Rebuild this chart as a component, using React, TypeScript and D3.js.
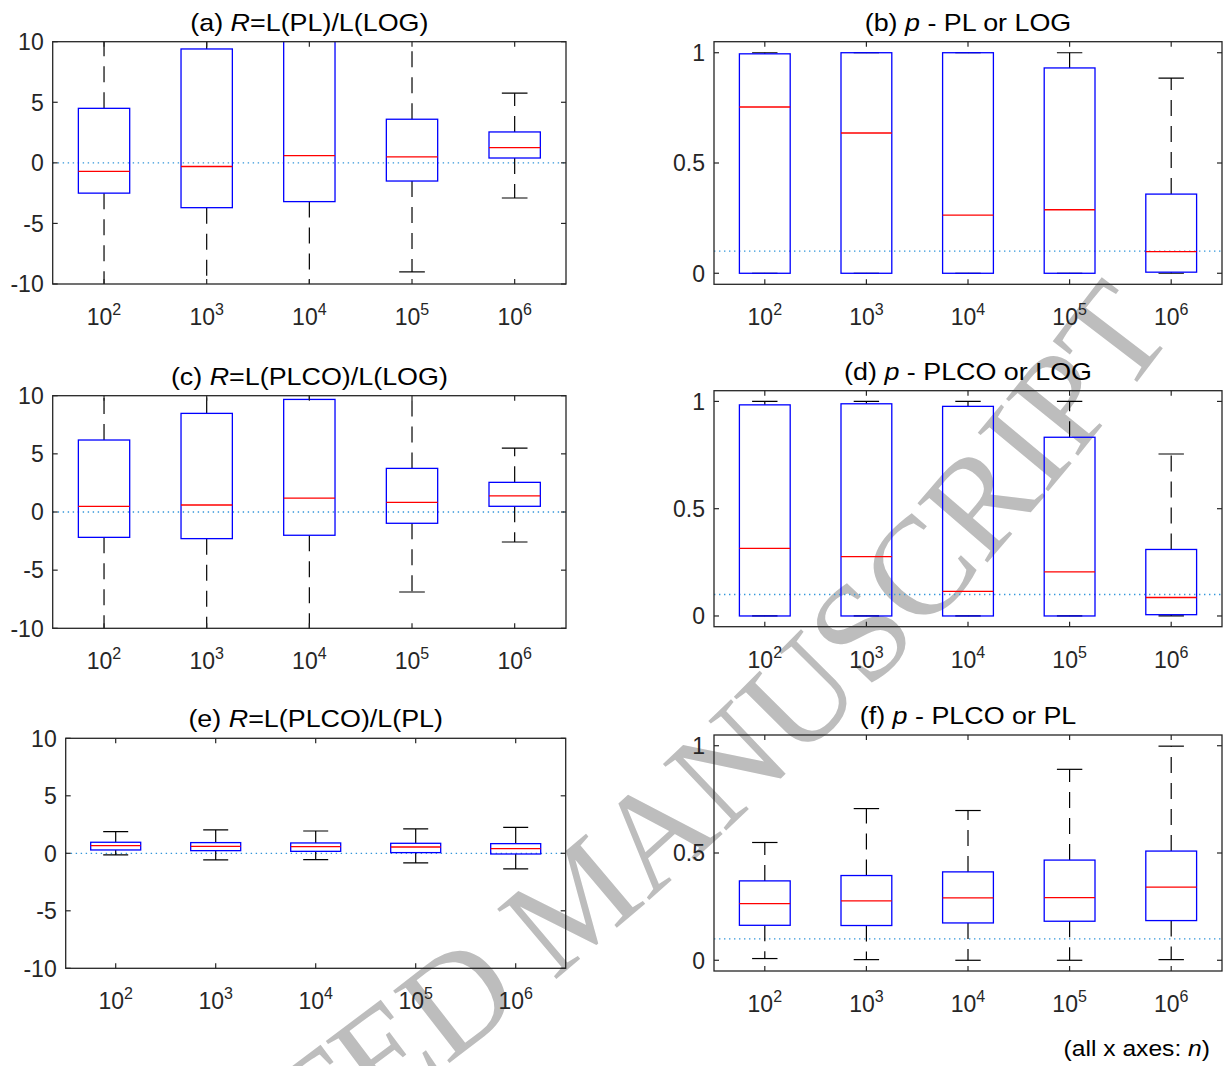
import React from 'react';
import * as d3 from 'd3';

// sample sizes n = 10^k
const EXPONENTS = ['2', '3', '4', '5', '6'];

// (a) R = L(PL)/L(LOG)   (whiskers beyond +-10 run off the axes)
const aLo = [-25, -25, -25, -9.0, -2.9];
const aQ1 = [-2.5, -3.7, -3.2, -1.5, 0.4];
const aMed = [-0.7, -0.3, 0.6, 0.5, 1.25];
const aQ3 = [4.5, 9.4, 12, 3.6, 2.55];
const aHi = [25, 25, 25, 25, 5.75];

// (b) p - PL or LOG
const bLo = [0, 0, 0, 0, 0];
const bQ1 = [0, 0, 0, 0, 0.005];
const bMed = [0.754, 0.636, 0.264, 0.288, 0.098];
const bQ3 = [0.995, 1.0, 1.0, 0.931, 0.359];
const bHi = [1, 1, 1, 1, 0.885];

// (c) R = L(PLCO)/L(LOG)
const cLo = [-25, -25, -25, -6.88, -2.58];
const cQ1 = [-2.18, -2.29, -2.0, -0.97, 0.49];
const cMed = [0.49, 0.6, 1.2, 0.83, 1.38];
const cQ3 = [6.19, 8.48, 9.68, 3.75, 2.55];
const cHi = [25, 25, 25, 25, 5.5];

// (d) p - PLCO or LOG
const dLo = [0, 0, 0, 0, 0];
const dQ1 = [0, 0, 0, 0, 0.006];
const dMed = [0.315, 0.277, 0.115, 0.206, 0.086];
const dQ3 = [0.984, 0.989, 0.977, 0.833, 0.31];
const dHi = [1, 1, 1, 1, 0.755];

// (e) R = L(PLCO)/L(PL)
const eLo = [-0.14, -0.58, -0.55, -0.84, -1.36];
const eQ1 = [0.29, 0.23, 0.17, 0.06, -0.06];
const eMed = [0.67, 0.61, 0.58, 0.55, 0.41];
const eQ3 = [0.96, 0.93, 0.9, 0.87, 0.84];
const eHi = [1.88, 2.03, 1.94, 2.12, 2.26];

// (f) p - PLCO or PL
const fLo = [0.008, 0.003, 0, 0, 0.003];
const fQ1 = [0.163, 0.162, 0.174, 0.182, 0.185];
const fMed = [0.264, 0.277, 0.291, 0.292, 0.341];
const fQ3 = [0.37, 0.395, 0.412, 0.467, 0.509];
const fHi = [0.549, 0.707, 0.698, 0.89, 0.998];

const R_TICKS = [-10, -5, 0, 5, 10];
const P_TICKS = [0, 0.5, 1];
const R_LIM = [-10, 10];
const P_LIM = [-0.05, 1.05];
const R_REF = 0;
const P_REF = 0.1;

const FONT = '"Liberation Sans", Arial, Helvetica, sans-serif';
const AX = '#262626';
const DASH = '16,10';

type Panel = {
  id: string;
  letter: string;
  kind: 'R' | 'p';
  rest: string;
  box: [number, number, number, number]; // left, right, top, bottom
  lo: number[]; q1: number[]; med: number[]; q3: number[]; hi: number[];
};

const panels: Panel[] = [
  { id: 'a', letter: '(a) ', kind: 'R', rest: '=L(PL)/L(LOG)', box: [52.7, 566, 41.7, 284], lo: aLo, q1: aQ1, med: aMed, q3: aQ3, hi: aHi },
  { id: 'b', letter: '(b) ', kind: 'p', rest: ' - PL or LOG', box: [714, 1222, 41.7, 284.3], lo: bLo, q1: bQ1, med: bMed, q3: bQ3, hi: bHi },
  { id: 'c', letter: '(c) ', kind: 'R', rest: '=L(PLCO)/L(LOG)', box: [52.7, 566, 395.7, 628.3], lo: cLo, q1: cQ1, med: cMed, q3: cQ3, hi: cHi },
  { id: 'd', letter: '(d) ', kind: 'p', rest: ' - PLCO or LOG', box: [714, 1222, 390.7, 626.7], lo: dLo, q1: dQ1, med: dMed, q3: dQ3, hi: dHi },
  { id: 'e', letter: '(e) ', kind: 'R', rest: '=L(PLCO)/L(PL)', box: [65.7, 565.7, 738.3, 968.3], lo: eLo, q1: eQ1, med: eMed, q3: eQ3, hi: eHi },
  { id: 'f', letter: '(f) ', kind: 'p', rest: ' - PLCO or PL', box: [714, 1222, 735, 971], lo: fLo, q1: fQ1, med: fMed, q3: fQ3, hi: fHi },
];

function BoxPanel({ p }: { p: Panel }) {
  const [x0, x1, y0, y1] = p.box;
  const isR = p.kind === 'R';
  const x = d3.scalePoint<string>().domain(EXPONENTS).range([x0, x1]).padding(0.5);
  const y = d3.scaleLinear().domain(isR ? R_LIM : P_LIM).range([y1, y0]);
  const step = x.step();
  const bw = step * 0.5;
  const cw = step * 0.25;
  const ticks = isR ? R_TICKS : P_TICKS;
  const ref = isR ? R_REF : P_REF;
  const tl = 5;
  const clip = `clip-${p.id}`;

  return (
    <g>
      <defs>
        <clipPath id={clip}>
          <rect x={x0} y={y0} width={x1 - x0} height={y1 - y0} />
        </clipPath>
      </defs>
      <g clipPath={`url(#${clip})`}>
        <line x1={x0} x2={x1} y1={y(ref)} y2={y(ref)} stroke="#3396da" strokeWidth={1.3} strokeDasharray="1.4,3.6" />
        {EXPONENTS.map((k, i) => {
          const cx = x(k) as number;
          return (
            <g key={k}>
              <line x1={cx} x2={cx} y1={y(p.q3[i])} y2={y(p.hi[i])} stroke="#000" strokeWidth={1.2} strokeDasharray={DASH} />
              <line x1={cx} x2={cx} y1={y(p.q1[i])} y2={y(p.lo[i])} stroke="#000" strokeWidth={1.2} strokeDasharray={DASH} />
              <line x1={cx - cw / 2} x2={cx + cw / 2} y1={y(p.hi[i])} y2={y(p.hi[i])} stroke="#000" strokeWidth={1.2} />
              <line x1={cx - cw / 2} x2={cx + cw / 2} y1={y(p.lo[i])} y2={y(p.lo[i])} stroke="#000" strokeWidth={1.2} />
              <rect x={cx - bw / 2} y={y(p.q3[i])} width={bw} height={y(p.q1[i]) - y(p.q3[i])} fill="none" stroke="#0000ff" strokeWidth={1.3} />
              <line x1={cx - bw / 2} x2={cx + bw / 2} y1={y(p.med[i])} y2={y(p.med[i])} stroke="#ff0000" strokeWidth={1.3} />
            </g>
          );
        })}
      </g>
      {/* frame and inward ticks on all sides */}
      <rect x={x0} y={y0} width={x1 - x0} height={y1 - y0} fill="none" stroke={AX} strokeWidth={1.3} />
      {EXPONENTS.map((k) => {
        const cx = x(k) as number;
        return (
          <g key={'xt' + k}>
            <line x1={cx} x2={cx} y1={y1} y2={y1 - tl} stroke={AX} strokeWidth={1.2} />
            <line x1={cx} x2={cx} y1={y0} y2={y0 + tl} stroke={AX} strokeWidth={1.2} />
            <text x={cx} y={y1 + 41} textAnchor="middle" fontFamily={FONT} fontSize={23} fill={AX}>
              10<tspan dy={-10} fontSize={16}>{k}</tspan>
            </text>
          </g>
        );
      })}
      {ticks.map((t) => (
        <g key={'yt' + t}>
          <line x1={x0} x2={x0 + tl} y1={y(t)} y2={y(t)} stroke={AX} strokeWidth={1.2} />
          <line x1={x1} x2={x1 - tl} y1={y(t)} y2={y(t)} stroke={AX} strokeWidth={1.2} />
          <text x={x0 - 9} y={y(t)} dy="0.36em" textAnchor="end" fontFamily={FONT} fontSize={23} fill={AX}>
            {t}
          </text>
        </g>
      ))}
      <text
        transform={`translate(${(x0 + x1) / 2},${y0 - 11}) scale(1.12,1)`}
        textAnchor="middle"
        fontFamily={FONT}
        fontSize={24}
        fill="#000"
      >
        {p.letter}
        <tspan fontStyle="italic">{isR ? 'R' : 'p'}</tspan>
        {p.rest}
      </text>
    </g>
  );
}

export default function App() {
  const W = 1223;
  const H = 1066;
  return (
    <svg width={W} height={H} style={{ position: 'absolute', left: 0, top: 0, background: '#fff' }}>
      <rect width={W} height={H} fill="#fff" />
      <defs>
        <path id="wm-path" d="M -122 1493 L 437 1072 Q 836.5 771.5 1150 365 L 1176 331" />
      </defs>
      <text fontFamily='"Liberation Serif", "Times New Roman", serif' fontSize={140} fill="#bdbdbd">
        <textPath href="#wm-path" startOffset="100%" textAnchor="end">ACCEPTED MANUSCRIPT</textPath>
      </text>
      {panels.map((p) => (
        <BoxPanel key={p.id} p={p} />
      ))}
      <text transform="translate(1210,1056) scale(1.12,1)" textAnchor="end" fontFamily={FONT} fontSize={22} fill="#000">
        (all x axes:  <tspan fontStyle="italic">n</tspan>)
      </text>
    </svg>
  );
}
